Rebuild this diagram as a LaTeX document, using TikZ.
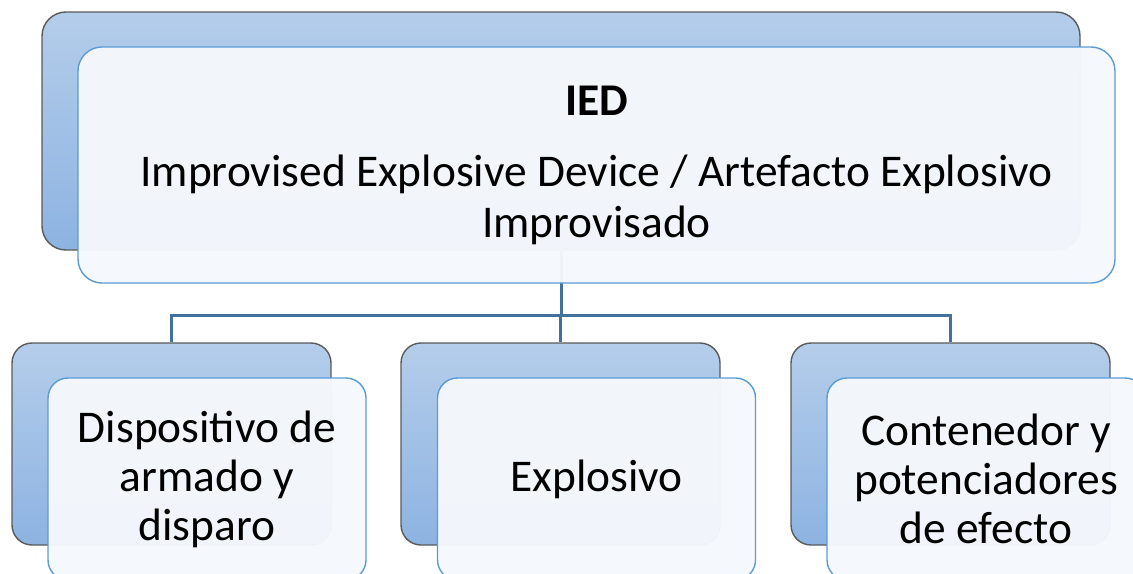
\documentclass[tikz,border=0pt]{standalone}
\usepackage{fontspec}
\setmainfont{Carlito}
\definecolor{backtop}{HTML}{B4CDEA}
\definecolor{backbot}{HTML}{8DB3E2}
\definecolor{backline}{HTML}{5A5A5A}
\definecolor{frontfill}{HTML}{F5F8FC}
\definecolor{frontline}{HTML}{5B9BD5}
\definecolor{connc}{HTML}{41719C}
\tikzset{
  backbox/.style={draw=backline, line width=0.7pt, top color=backtop, bottom color=backbot, inner sep=0pt},
  frontbox/.style={draw=frontline, line width=0.7pt, fill=frontfill, fill opacity=0.97, text opacity=1, inner sep=0pt, align=center, font=\fontsize{22.7}{24.5}\selectfont},
  conn/.style={draw=connc, line width=1.5pt},
  bigbox/.style={minimum width=519pt, minimum height=119pt, rounded corners=12pt},
  smallbox/.style={minimum width=159.5pt, minimum height=101pt, rounded corners=10pt}
}
\begin{document}
\begin{tikzpicture}[x=0.5pt,y=-0.5pt]
\useasboundingbox (0,0) rectangle (1133,573);
% back boxes
\node[backbox, bigbox] (tb) at (561,131) {};
\node[backbox, smallbox] (c1) at (171.5,444) {};
\node[backbox, smallbox] (c2) at (560.5,444) {};
\node[backbox, smallbox] (c3) at (950.5,444) {};
% connectors
\draw[conn] (tb.south) -- ++(0,65) -| (c1.north);
\draw[conn] (tb.south) -- ++(0,65) -| (c2.north);
\draw[conn] (tb.south) -- ++(0,65) -| (c3.north);
% front boxes
\node[frontbox, bigbox, minimum width=518.5pt, minimum height=118pt, font=\fontsize{22.7}{25.5}\selectfont] (tf) at (596.5,165)
  {{\bfseries IED}\\[10pt]Improvised Explosive Device / Artefacto Explosivo\\Improvisado};
\node[frontbox, smallbox, minimum width=159pt] (f1) at (207,479) {Dispositivo de\\armado y\\disparo};
\node[frontbox, smallbox, minimum width=159pt] (f2) at (596.5,479) {Explosivo};
\node[frontbox, smallbox, minimum width=159pt] (f3) at (986,479) {Contenedor y\\potenciadores\\de efecto};
\end{tikzpicture}
\end{document}
